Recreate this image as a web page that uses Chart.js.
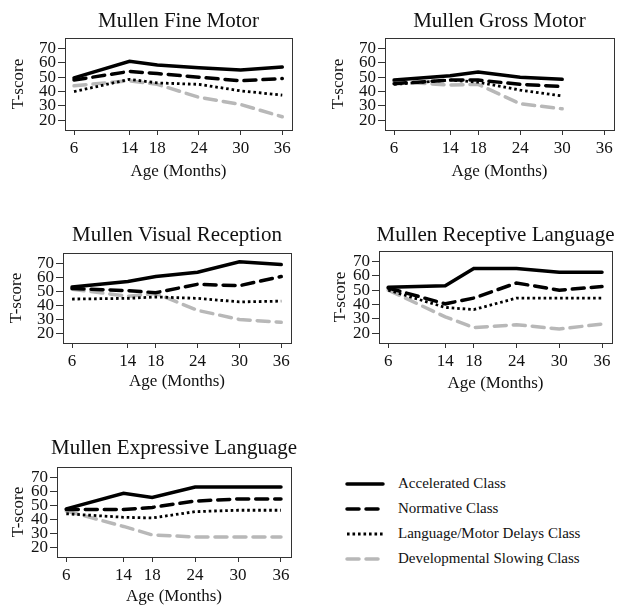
<!DOCTYPE html>
<html>
<head>
<meta charset="utf-8">
<script src="https://cdn.jsdelivr.net/npm/chart.js@4/dist/chart.umd.min.js"></script>
<style>
body { margin: 0; background: #fff; }
#page { position: relative; width: 624px; height: 616px; overflow: hidden; font-family: 'Liberation Serif', serif; }
.panel { position: absolute; }
#legend { position: absolute; left: 345px; top: 471px; }
.row { display: flex; align-items: center; height: 25px; }
.row svg { width: 40px; height: 8px; margin-right: 13px; }
.row span { font-size: 15px; color: #111; }
</style>
</head>
<body>
<div id="page">
	<canvas id="fine" class="panel"></canvas>
	<canvas id="gross" class="panel"></canvas>
	<canvas id="visual" class="panel"></canvas>
	<canvas id="receptive" class="panel"></canvas>
	<canvas id="expressive" class="panel"></canvas>
	<div id="legend"></div>
</div>
<script>
const months = [6, 14, 18, 24, 30, 36]
const yTicks = [20, 30, 40, 50, 60, 70]
const classNames = ['Accelerated Class', 'Normative Class', 'Language/Motor Delays Class', 'Developmental Slowing Class']

const fineAccel = [49.5, 61, 58.5, 56.5, 55, 57]
const fineNorm = [48, 54, 52.5, 50, 47.5, 49]
const fineDelay = [40, 48.5, 46, 45, 40.5, 37.5]
const fineSlow = [44, 47.5, 45, 36, 31, 22.5]

// gross motor stops at 30 months
const grossAccel = [48, 51, 53.5, 50, 48.5]
const grossNorm = [45.5, 48, 48, 45, 43.5]
const grossDelay = [45, 48, 46.5, 41, 37]
const grossSlow = [47, 44.5, 45, 31.5, 28]

const visualAccel = [53, 57, 60.5, 63.5, 71, 69]
const visualNorm = [52, 50.5, 49, 55, 54, 60.5]
const visualDelay = [44.5, 45, 46, 45, 42.5, 43]
const visualSlow = [51.5, 46.5, 48.5, 36.5, 30, 28]

const receptiveAccel = [52, 53, 65, 65, 62.5, 62.5]
const receptiveNorm = [51.5, 40.5, 44.5, 55, 50, 52.5]
const receptiveDelay = [50, 38, 36.5, 44.5, 44.5, 44.5]
const receptiveSlow = [50, 31.5, 24, 26, 23, 26.5]

const expressiveAccel = [47.5, 58.5, 55.5, 63, 63, 63]
const expressiveNorm = [47, 47, 48.5, 53, 54.5, 54.5]
const expressiveDelay = [44, 41.5, 41, 45.5, 46.5, 46.5]
const expressiveSlow = [46, 35, 29, 27.5, 27.5, 27.5]

const styles = [
	{borderColor: '#000', borderWidth: 3.5, borderDash: [], borderCapStyle: 'round'},
	{borderColor: '#000', borderWidth: 3.5, borderDash: [12, 7], borderCapStyle: 'round'},
	{borderColor: '#000', borderWidth: 2.8, borderDash: [2.6, 2.9], borderCapStyle: 'butt'},
	{borderColor: '#b8b8b8', borderWidth: 3.5, borderDash: [12, 7], borderCapStyle: 'round'},
]

Chart.defaults.font.family = "'Liberation Serif', serif"
Chart.defaults.color = '#111'

// box round the plot area plus the panel title
const frame = {
	id: 'frame',
	afterDraw(chart, args, opts) {
		const {ctx, chartArea: a} = chart
		ctx.save()
		ctx.strokeStyle = '#333'
		ctx.lineWidth = 1
		ctx.strokeRect(Math.round(a.left) + 0.5, Math.round(a.top) + 0.5, Math.round(a.right - a.left), Math.round(a.bottom - a.top))
		ctx.fillStyle = '#111'
		ctx.font = "21px 'Liberation Serif'"
		ctx.textAlign = 'center'
		ctx.textBaseline = 'middle'
		ctx.fillText(opts.text, (a.left + a.right) / 2, opts.y)
		ctx.restore()
	}
}

function series(values, index) {
	return {
		label: classNames[index],
		data: values.map((v, i) => ({x: months[i], y: v})),
		...styles[index],
		pointRadius: 0,
		tension: 0,
		fill: false,
	}
}

function createPanel(id, title, lines, p) {
	const canvas = document.getElementById(id)
	const height = Math.round(p.xTitleY + 12.2)
	canvas.width = 312
	canvas.height = height
	canvas.style.left = p.left + 'px'
	canvas.style.top = p.top + 'px'
	new Chart(canvas, {
		type: 'line',
		data: {datasets: lines.map(series)},
		plugins: [frame],
		options: {
			responsive: false,
			animation: false,
			layout: {padding: {top: p.areaT, right: 312 - p.areaR, left: 0, bottom: 0}},
			plugins: {
				legend: {display: false},
				tooltip: {enabled: false},
				frame: {text: title, y: p.titleY},
			},
			scales: {
				x: {
					type: 'linear',
					min: 4.7,
					max: 37.4,
					afterBuildTicks: s => { s.ticks = months.map(v => ({value: v})) },
					afterFit: s => { s.height = height - p.areaB },
					grid: {drawOnChartArea: false, tickLength: 5, color: '#333'},
					border: {display: false},
					ticks: {padding: 3, font: {size: 17}, maxRotation: 0, autoSkip: false},
					title: {display: true, text: 'Age (Months)', font: {size: 17}, padding: {top: 0, bottom: 2}},
				},
				y: {
					min: 13.3,
					max: 77.2,
					afterBuildTicks: s => { s.ticks = yTicks.map(v => ({value: v})) },
					afterFit: s => { s.width = p.areaL },
					grid: {drawOnChartArea: false, tickLength: 7, color: '#333'},
					border: {display: false},
					ticks: {padding: 2, font: {size: 17}, autoSkip: false},
					title: {display: true, text: 'T-score', font: {size: 17}, padding: {top: p.yTitleX - 10.2, bottom: 0}},
				},
			},
		},
	})
}

createPanel('fine', 'Mullen Fine Motor', [fineAccel, fineNorm, fineDelay, fineSlow],
	{left: 0, top: 0, areaL: 65, areaT: 38, areaR: 292, areaB: 130, titleY: 21.5, xTitleY: 171.7, yTitleX: 18.3})
createPanel('gross', 'Mullen Gross Motor', [grossAccel, grossNorm, grossDelay, grossSlow],
	{left: 312, top: 0, areaL: 73, areaT: 38, areaR: 302, areaB: 130, titleY: 21.5, xTitleY: 171.7, yTitleX: 26.7})
createPanel('visual', 'Mullen Visual Reception', [visualAccel, visualNorm, visualDelay, visualSlow],
	{left: 0, top: 210, areaL: 63, areaT: 43, areaR: 291, areaB: 133, titleY: 25, xTitleY: 171.7, yTitleX: 16.7})
createPanel('receptive', 'Mullen Receptive Language', [receptiveAccel, receptiveNorm, receptiveDelay, receptiveSlow],
	{left: 312, top: 210, areaL: 67, areaT: 41, areaR: 300, areaB: 133, titleY: 25, xTitleY: 174, yTitleX: 28.3})
createPanel('expressive', 'Mullen Expressive Language', [expressiveAccel, expressiveNorm, expressiveDelay, expressiveSlow],
	{left: 0, top: 420, areaL: 57, areaT: 47, areaR: 291, areaB: 137, titleY: 28.3, xTitleY: 176.7, yTitleX: 18.3})

const legend = document.getElementById('legend')
legend.innerHTML = classNames.map((name, i) => {
	const s = styles[i]
	const dash = s.borderDash.join(' ') || 'none'
	return `<div class="row"><svg viewBox="0 0 40 8"><line x1="2" y1="4" x2="38" y2="4" stroke="${s.borderColor}" stroke-width="${s.borderWidth}" stroke-linecap="${s.borderCapStyle}" stroke-dasharray="${dash}"/></svg><span>${name}</span></div>`
}).join('')
</script>
</body>
</html>
